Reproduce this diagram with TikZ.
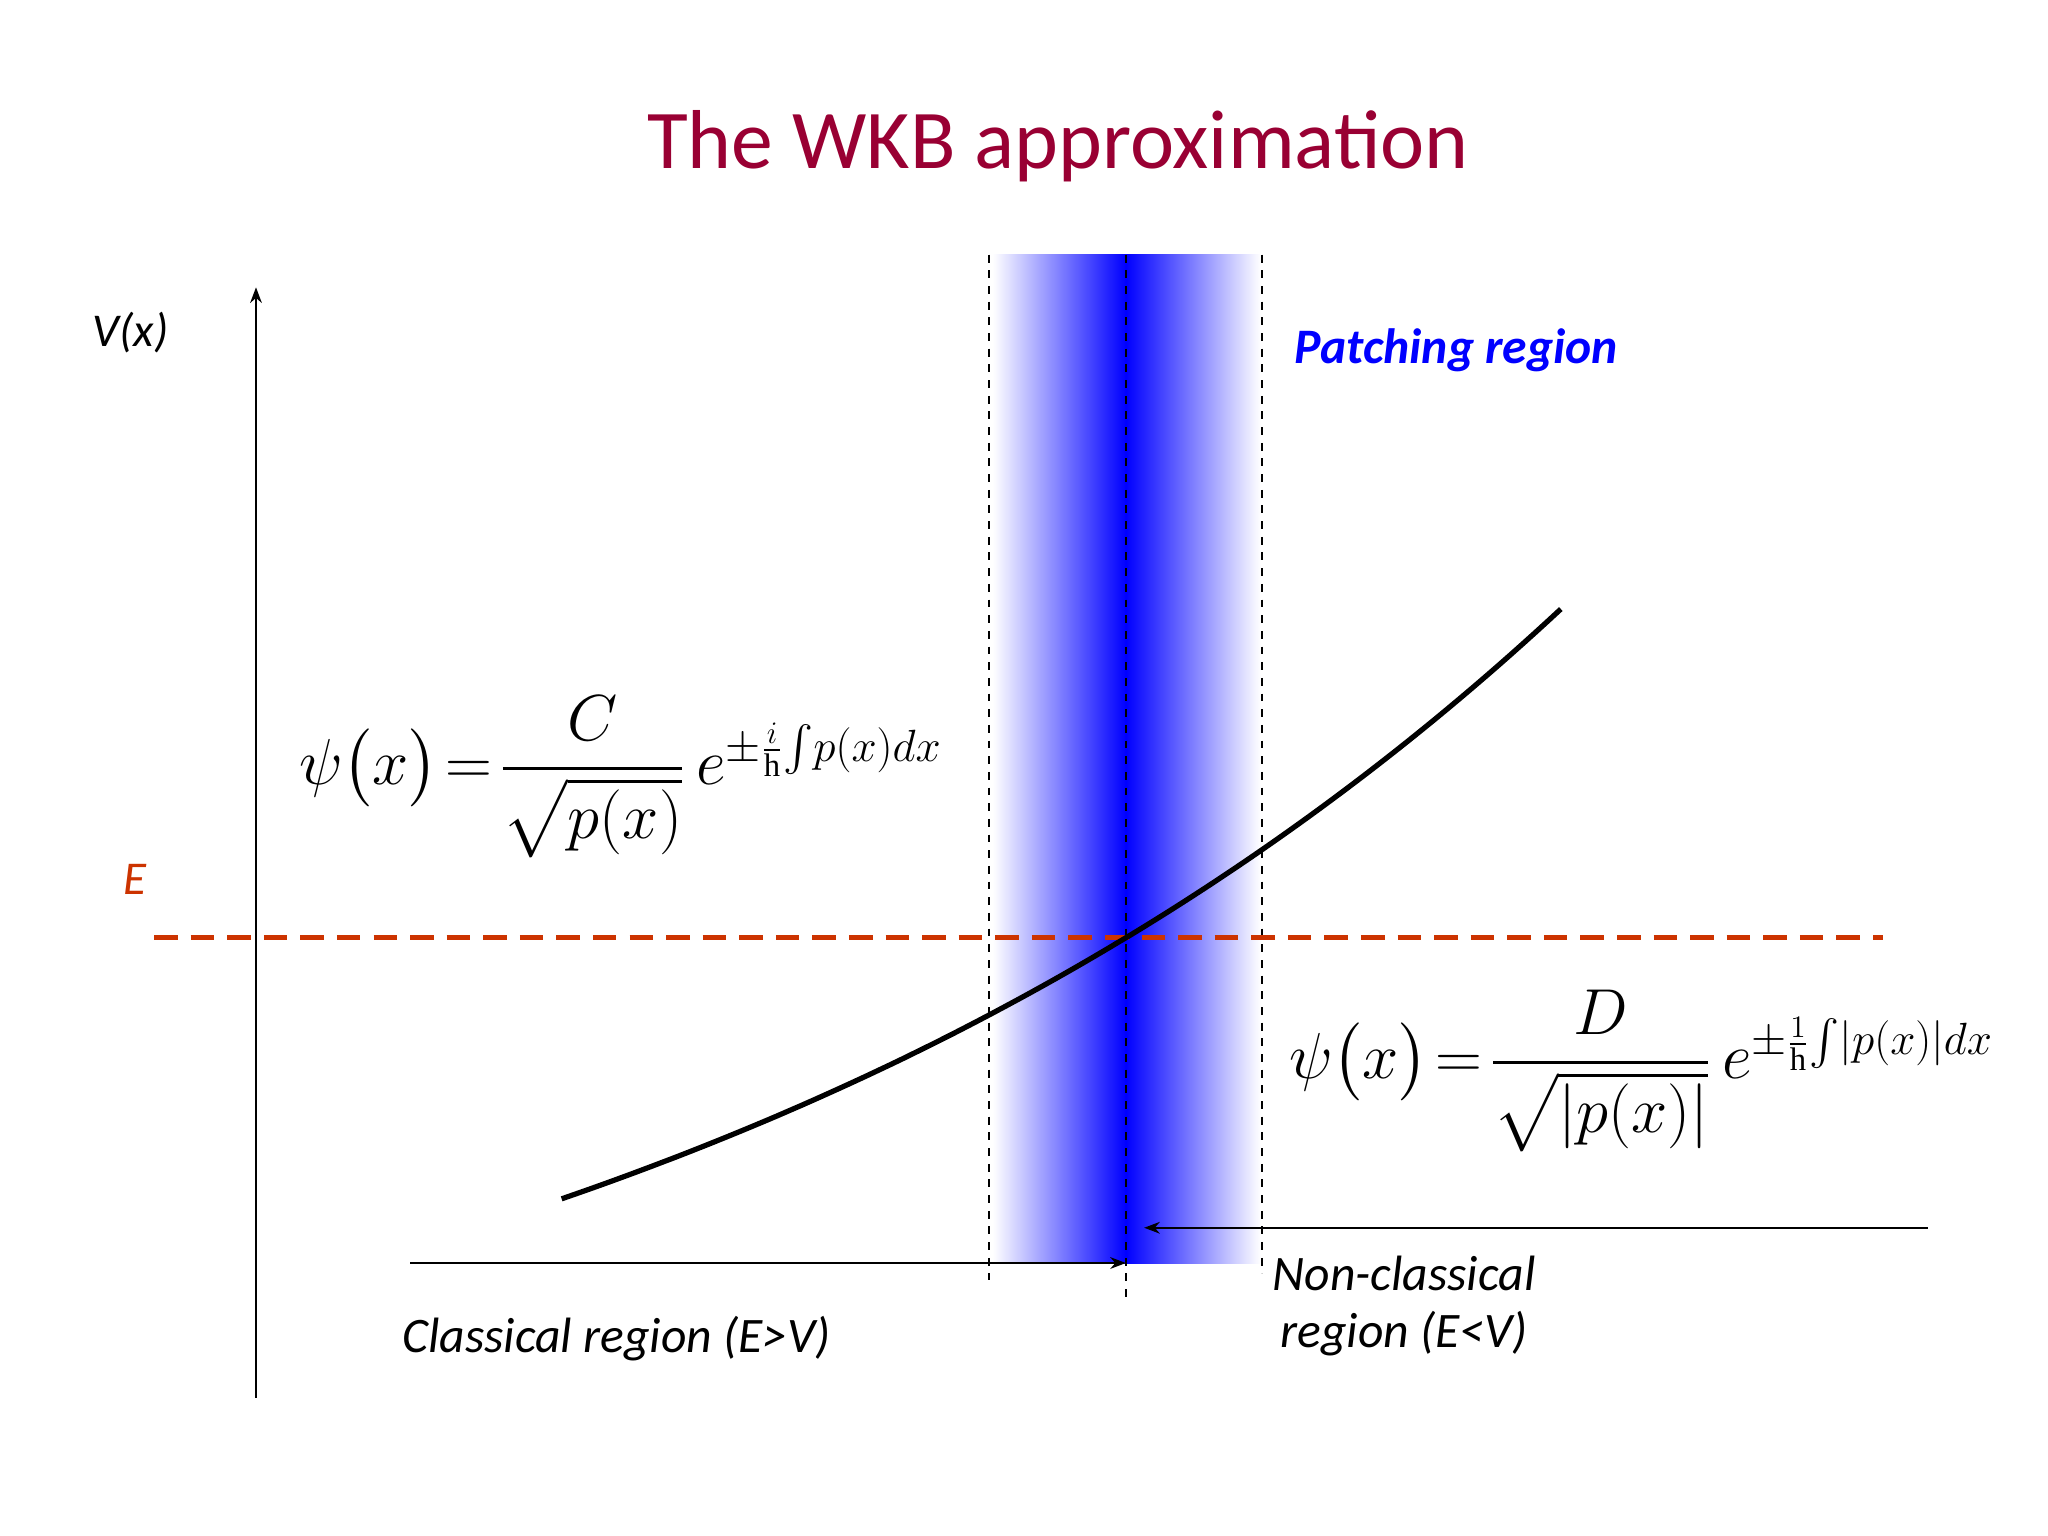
\documentclass[tikz,border=0pt]{standalone}
\usepackage{amsmath}
\usepackage{fontspec}
\setmainfont{Carlito}
\newfontfamily\serif{Liberation Serif}
\usetikzlibrary{arrows.meta}
\definecolor{titlered}{HTML}{990033}
\definecolor{ered}{HTML}{CC3300}
\definecolor{pblue}{HTML}{0000FF}
\newcommand{\hb}{\text{\serif h}}
\begin{document}
\begin{tikzpicture}[x=0.5pt,y=-0.5pt,
  guide/.style={black,dashed,line width=0.6pt},
  lbl/.style={font=\itshape\fontsize{19}{22}\selectfont,align=center},
  arr/.style={-{Stealth[length=6pt]},line width=0.7pt}]
\useasboundingbox (0,0) rectangle (1568,1176);
% shading
\shade[left color=white,right color=pblue] (760,195) rectangle (862,967);
\shade[left color=pblue,right color=white] (862,195) rectangle (965,967);
% guides
\draw[guide] (757,195) -- (757,980);
\draw[guide] (862,195) -- (862,995);
\draw[guide] (966,195) -- (966,975);
% axis
\coordinate (ab) at (196,1070); \coordinate (at) at (196,220);
\draw[arr] (ab) -- (at);
% E line
\coordinate (e1) at (118,718); \coordinate (e2) at (1442,718);
\draw[ered,line width=1.8pt,dash pattern=on 9pt off 5pt] (e1) -- (e2);
% curve
\draw[line width=2pt,domain=430:1195,samples=80,variable=\t] plot ({\t},{718-466*(exp(0.0013*(\t-862))-1)});
% arrows
\coordinate (c1) at (314,967); \coordinate (c2) at (862,967);
\draw[arr] (c1) -- (c2);
\coordinate (n1) at (1476,940); \coordinate (n2) at (876,940);
\draw[arr] (n1) -- (n2);
% texts
\node[text=titlered,font=\fontsize{32}{36}\selectfont] (title) at (810,112) {The WKB approximation};
\node[lbl,font=\itshape\fontsize{18}{20}\selectfont] (vx) at (100,255) {V(x)};
\node[lbl,text=ered,font=\itshape\fontsize{18}{20}\selectfont] (E) at (103,673) {E};
\node[lbl,text=pblue,font=\bfseries\itshape\fontsize{19}{22}\selectfont,anchor=west] (patch) at (984,268) {Patching region};
\node[lbl] (cl) at (472,1025) {Classical region (E>V)};
\node[lbl] (ncl) at (1075,1000) {Non-classical\\region (E<V)};
\node[anchor=west,font=\fontsize{25}{30}\selectfont] (f1) at (222,595)
 {$\psi\big(x\big)\!=\!\dfrac{C}{\sqrt{p(x)}}\,e^{\pm\frac{i}{\hb}\!\int\! p(x)dx}$};
\node[anchor=west,font=\fontsize{25}{30}\selectfont] (f2) at (980,820)
 {$\psi\big(x\big)\!=\!\dfrac{D}{\sqrt{|p(x)|}}\,e^{\pm\frac{1}{\hb}\!\int\! |p(x)|dx}$};
\end{tikzpicture}
\end{document}
